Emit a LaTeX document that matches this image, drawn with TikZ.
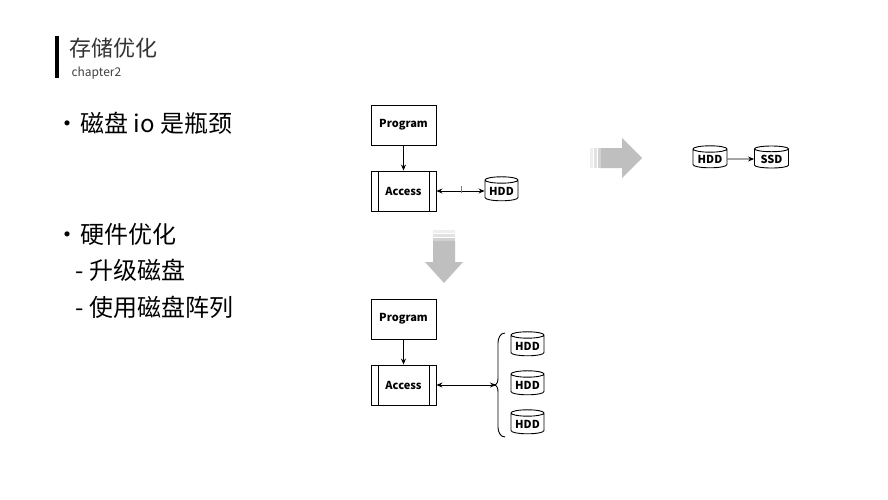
\documentclass[tikz,border=0pt]{standalone}
\usepackage{fontspec}
\setmainfont{Noto Sans CJK SC}
\usetikzlibrary{shapes.geometric,arrows.meta,decorations.pathreplacing}
\begin{document}
\begin{tikzpicture}[x=1pt,y=-1pt,
 box/.style={draw,line width=0.9pt,minimum width=65pt,minimum height=40pt,font=\bfseries\fontsize{11}{13}\selectfont},
 disk/.style={cylinder,shape border rotate=90,draw,line width=0.9pt,aspect=0.25,minimum width=33pt,minimum height=24pt,inner sep=0.5pt,font=\bfseries\fontsize{11}{13}\selectfont},
 arr/.style={-{Stealth[length=6pt,width=5pt]},line width=0.8pt},
 big/.style={font=\fontsize{24}{28}\selectfont,anchor=west}]
\useasboundingbox (0,0) rectangle (888,500);
\fill[white] (0,0) rectangle (888,500);
\fill (55,36) rectangle (59,78);
\node[anchor=west,font=\fontsize{22}{26}\selectfont,text=black!80] (t) at (66,48) {存储优化};
\node[anchor=west,font=\fontsize{12}{14}\selectfont,text=black!75] (c) at (68,73) {chapter2};
\node[big] (b1) at (52,123) {•\hspace{1pt}磁盘 io 是瓶颈};
\node[big] (b2) at (52,234) {•\hspace{1pt}硬件优化};
\node[big] (b3) at (72,270) {- 升级磁盘};
\node[big] (b4) at (72,307) {- 使用磁盘阵列};
% diagram 1
\node[box] (p1) at (403.5,125) {Program};
\node[box] (a1) at (403.5,191) {Access};
\draw[line width=0.9pt] (378,171)--(378,211) (429,171)--(429,211);
\node[disk] (h1) at (501.5,191) {HDD};
\draw[arr] (p1)--(a1);
\draw[arr,{Stealth[length=6pt,width=5pt]}-{Stealth[length=6pt,width=5pt]}] (a1)--(h1);
\draw[gray,line width=0.8pt] (461,186)--(461,193);
% gray down arrow
\foreach \y/\o in {230/0.25,234/0.45,238/0.7} \fill[black!25,opacity=\o] (433,\y) rectangle (455,\y+3);
\fill[black!25] (433,241) -- (455,241) -- (455,262) -- (463,262) -- (444,283) -- (425,262) -- (433,262) -- cycle;
% diagram 2
\node[box] (p2) at (403.5,319) {Program};
\node[box] (a2) at (403.5,385) {Access};
\draw[line width=0.9pt] (378,365)--(378,405) (429,365)--(429,405);
\draw[arr] (p2)--(a2);
\coordinate (br) at (496,385);
\draw[arr,{Stealth[length=6pt,width=5pt]}-{Stealth[length=6pt,width=5pt]}] (a2)--(br);
\draw[line width=0.9pt] (505,333) to[out=180,in=90] (498,343) -- (498,378) to[out=-90,in=0] (494,385) to[out=0,in=90] (498,392) -- (498,427) to[out=-90,in=180] (505,437);
\node[disk] (h2) at (527.5,346) {HDD};
\node[disk] (h3) at (527.5,385) {HDD};
\node[disk] (h4) at (527.5,424) {HDD};
% gray right arrow
\foreach \x/\o in {590/0.25,594/0.45,598/0.7} \fill[black!25,opacity=\o] (\x,148) rectangle (\x+3,168);
\fill[black!25] (601,148) -- (622,148) -- (622,138) -- (642,158) -- (622,178) -- (622,168) -- (601,168) -- cycle;
\node[disk,minimum width=34pt,minimum height=22pt] (h5) at (710,159) {HDD};
\node[disk,minimum width=34pt,minimum height=22pt] (s5) at (771.5,159) {SSD};
\draw[arr] (h5)--(s5);
\end{tikzpicture}
\end{document}
